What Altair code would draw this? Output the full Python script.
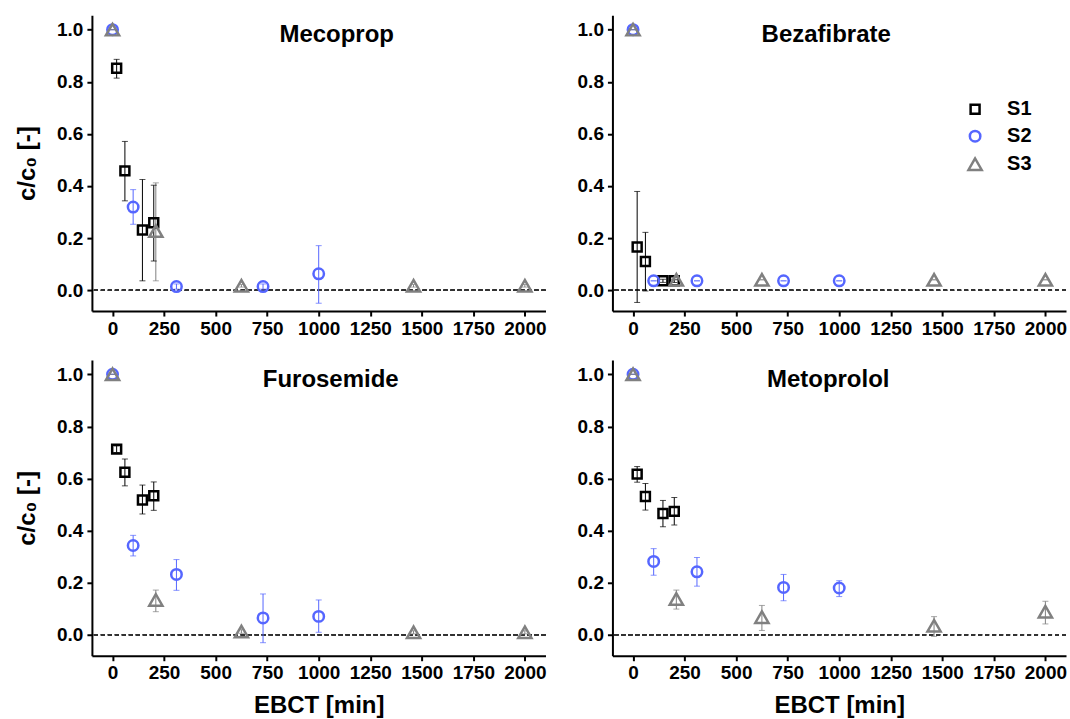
import altair as alt
import pandas as pd

COMPOUNDS = ["Mecoprop", "Bezafibrate", "Furosemide", "Metoprolol"]
SERIES = ["S1", "S2", "S3"]
COLORS = ["#000000", "#5566FF", "#808080"]
SHAPES = ["square", "circle", "triangle-up"]
X_TICKS = [0, 250, 500, 750, 1000, 1250, 1500, 1750, 2000]
Y_TICKS = [0.0, 0.2, 0.4, 0.6, 0.8, 1.0]

# EBCT [min] of each series
EBCT_S1 = [20, 60, 145, 200]
EBCT_S2 = [0, 100, 310, 730, 1000]
EBCT_S3 = [0, 210, 625, 1460, 2000]

# Mecoprop
MEC_S1 = [0.852, 0.458, 0.231, 0.259]
MEC_S1_LO = [0.814, 0.343, 0.036, 0.112]
MEC_S1_HI = [0.886, 0.571, 0.425, 0.403]
MEC_S2 = [1.0, 0.319, 0.014, 0.014, 0.063]
MEC_S2_LO = [1.0, 0.253, 0.004, 0.004, -0.050]
MEC_S2_HI = [1.0, 0.386, 0.024, 0.024, 0.171]
MEC_S3 = [1.0, 0.227, 0.017, 0.017, 0.017]
MEC_S3_LO = [1.0, 0.036, 0.012, 0.012, 0.012]
MEC_S3_HI = [1.0, 0.412, 0.022, 0.022, 0.022]

# Bezafibrate
BEZ_S1 = [0.166, 0.110, 0.036, 0.036]
BEZ_S1_LO = [-0.047, -0.003, 0.030, 0.030]
BEZ_S1_HI = [0.379, 0.222, 0.042, 0.042]
BEZ_S2 = [1.0, 0.036, 0.036, 0.036, 0.036]
BEZ_S2_LO = [1.0, 0.036, 0.036, 0.036, 0.036]
BEZ_S2_HI = [1.0, 0.036, 0.036, 0.036, 0.036]
BEZ_S3 = [1.0, 0.040, 0.040, 0.040, 0.040]
BEZ_S3_LO = [1.0, 0.040, 0.040, 0.040, 0.040]
BEZ_S3_HI = [1.0, 0.040, 0.040, 0.040, 0.040]

# Furosemide
FUR_S1 = [0.713, 0.624, 0.518, 0.534]
FUR_S1_LO = [0.700, 0.572, 0.464, 0.478]
FUR_S1_HI = [0.725, 0.675, 0.575, 0.587]
FUR_S2 = [1.0, 0.343, 0.232, 0.065, 0.071]
FUR_S2_LO = [1.0, 0.303, 0.171, -0.030, 0.010]
FUR_S2_HI = [1.0, 0.382, 0.289, 0.157, 0.134]
FUR_S3 = [1.0, 0.134, 0.013, 0.010, 0.010]
FUR_S3_LO = [1.0, 0.089, 0.006, 0.004, 0.004]
FUR_S3_HI = [1.0, 0.172, 0.020, 0.016, 0.016]

# Metoprolol
MET_S1 = [0.617, 0.531, 0.466, 0.474]
MET_S1_LO = [0.586, 0.479, 0.415, 0.422]
MET_S1_HI = [0.646, 0.581, 0.516, 0.527]
MET_S2 = [1.0, 0.282, 0.242, 0.182, 0.180]
MET_S2_LO = [1.0, 0.229, 0.187, 0.131, 0.147]
MET_S2_HI = [1.0, 0.331, 0.297, 0.232, 0.208]
MET_S3 = [1.0, 0.138, 0.068, 0.035, 0.089]
MET_S3_LO = [1.0, 0.099, 0.017, -0.006, 0.042]
MET_S3_HI = [1.0, 0.172, 0.113, 0.070, 0.129]

TABLE = {
    "Mecoprop": [(MEC_S1, MEC_S1_LO, MEC_S1_HI), (MEC_S2, MEC_S2_LO, MEC_S2_HI), (MEC_S3, MEC_S3_LO, MEC_S3_HI)],
    "Bezafibrate": [(BEZ_S1, BEZ_S1_LO, BEZ_S1_HI), (BEZ_S2, BEZ_S2_LO, BEZ_S2_HI), (BEZ_S3, BEZ_S3_LO, BEZ_S3_HI)],
    "Furosemide": [(FUR_S1, FUR_S1_LO, FUR_S1_HI), (FUR_S2, FUR_S2_LO, FUR_S2_HI), (FUR_S3, FUR_S3_LO, FUR_S3_HI)],
    "Metoprolol": [(MET_S1, MET_S1_LO, MET_S1_HI), (MET_S2, MET_S2_LO, MET_S2_HI), (MET_S3, MET_S3_LO, MET_S3_HI)],
}
EBCTS = [EBCT_S1, EBCT_S2, EBCT_S3]

rows = []
for comp in COMPOUNDS:
    for s, (vals, los, his) in enumerate(TABLE[comp]):
        for x, v, lo, hi in zip(EBCTS[s], vals, los, his):
            rows.append({"compound": comp, "series": SERIES[s], "ebct": x, "c": v, "lo": lo, "hi": hi})
df = pd.DataFrame(rows)

FONT = "Liberation Sans"
W, H = 454, 296


def panel(name, left, bottom, legend, dx):
    d = df[df.compound == name]
    xs = alt.Scale(domain=[-100, 2100], nice=False, zero=False)
    ys = alt.Scale(domain=[-0.08, 1.055], nice=False, zero=False)
    xaxis = alt.Axis(values=X_TICKS, title="EBCT [min]" if bottom else None, format="d")
    yaxis = alt.Axis(values=Y_TICKS, format=".1f", title="c/c\u2080 [-]" if left else None)
    cscale = alt.Scale(domain=SERIES, range=COLORS)
    sscale = alt.Scale(domain=SERIES, range=SHAPES)
    if legend:
        leg = alt.Legend(
            title=None, orient="none", legendX=353, legendY=84,
            symbolSize=60, symbolStrokeWidth=2.5, symbolFillColor="transparent",
            labelFontSize=20, labelFont=FONT, labelFontWeight="bold", labelColor="black",
            labelOffset=22, rowPadding=6, padding=0,
        )
    else:
        leg = None
    x = alt.X("ebct:Q", scale=xs, axis=xaxis)
    base = alt.Chart(d)
    zero = base.mark_rule(color="#333333", strokeWidth=1, strokeDash=[4, 3]).encode(
        y=alt.datum(0, scale=ys, axis=yaxis)
    )
    err = base.mark_rule(strokeWidth=1).encode(
        x=x,
        y=alt.Y("lo:Q", scale=ys, axis=yaxis),
        y2="hi:Q",
        stroke=alt.Stroke("series:N", scale=cscale, legend=None),
    )
    cap_lo = base.mark_tick(orient="horizontal", size=6, thickness=1).encode(
        x=x,
        y=alt.Y("lo:Q", scale=ys, axis=yaxis),
        fill=alt.Fill("series:N", scale=cscale, legend=None),
    )
    cap_hi = base.mark_tick(orient="horizontal", size=6, thickness=1).encode(
        x=x,
        y=alt.Y("hi:Q", scale=ys, axis=yaxis),
        fill=alt.Fill("series:N", scale=cscale, legend=None),
    )
    pts = base.mark_point(filled=False, strokeWidth=2.5, opacity=1).encode(
        x=x,
        y=alt.Y("c:Q", scale=ys, axis=yaxis),
        color=alt.Color("series:N", scale=cscale, legend=leg),
        shape=alt.Shape("series:N", scale=sscale, legend=leg),
        size=alt.Size("series:N", scale=alt.Scale(type="ordinal", domain=SERIES, range=[80, 110, 175]), legend=None),
    )
    return alt.layer(zero, err, cap_lo, cap_hi, pts).properties(
        width=W, height=H,
        title=alt.TitleParams(
            name, fontSize=24, font=FONT, fontWeight="bold", color="black",
            anchor="middle", offset=-32, dx=dx,
        ),
    )


chart = alt.concat(
    panel("Mecoprop", True, False, False, 18),
    panel("Bezafibrate", False, False, True, -13),
    panel("Furosemide", True, True, False, 12),
    panel("Metoprolol", False, True, False, -11),
    columns=2,
    spacing={"row": 49, "column": 67},
    bounds="flush",
).resolve_legend(color="independent", shape="independent", size="independent").configure(
    background="white",
    padding={"left": 15, "top": 15, "right": 3, "bottom": 3},
).configure_view(stroke=None).configure_axis(
    grid=False,
    domainColor="black", domainWidth=2,
    tickColor="black", tickWidth=2, tickSize=5,
    labelFont=FONT, labelFontSize=19, labelFontWeight="bold", labelColor="black",
    titleFont=FONT, titleFontSize=24, titleFontWeight="bold", titleColor="black",
).configure_axisX(labelPadding=3, titlePadding=11).configure_axisY(labelPadding=4, titlePadding=17)

chart.save("out.html", embed_options={"renderer": "svg", "actions": False})
